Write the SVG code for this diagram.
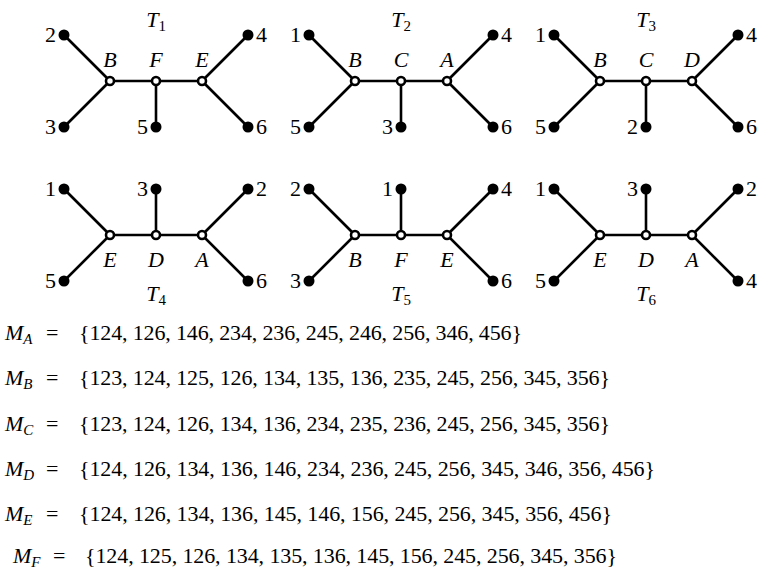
<svg xmlns="http://www.w3.org/2000/svg" width="760" height="571" viewBox="0 0 760 571">
<style>
.e{stroke:#000;stroke-width:2.6;fill:none}
.leaf{fill:#000}
.int{fill:#fff;stroke:#000;stroke-width:2.6}
.num{font-family:"Liberation Serif","Times New Roman",serif;font-size:22px;fill:#000}
.l{text-anchor:end}
.lab{font-family:"Liberation Serif","Times New Roman",serif;font-style:italic;font-size:22px;text-anchor:middle;fill:#000}
.sub{font-style:normal;font-size:15px}
.eq{font-family:"Liberation Serif","Times New Roman",serif;font-size:22px;fill:#000}
.it{font-style:italic}
.s{font-style:italic;font-size:15px}
</style>
<rect width="760" height="571" fill="#fff"/>

<!-- T1 -->
<g id="T1">
<g id="T1-edges">
<line class="e" x1="64" y1="35" x2="110" y2="81"/><line class="e" x1="64" y1="127" x2="110" y2="81"/>
<line class="e" x1="110" y1="81" x2="202" y2="81"/><line class="e" x1="156" y1="81" x2="156" y2="127"/>
<line class="e" x1="202" y1="81" x2="248" y2="35"/><line class="e" x1="202" y1="81" x2="248" y2="127"/>
</g>
<text class="lab" x="156" y="27">T<tspan class="sub" dy="4">1</tspan></text>
<g id="T1-leaf2"><circle class="leaf" cx="64" cy="35" r="5.5"/><text class="num l" x="56" y="42">2</text></g>
<g id="T1-leaf3"><circle class="leaf" cx="64" cy="127" r="5.5"/><text class="num l" x="56" y="134">3</text></g>
<g id="T1-leaf5"><circle class="leaf" cx="156" cy="127" r="5.5"/><text class="num l" x="148" y="134">5</text></g>
<g id="T1-leaf4"><circle class="leaf" cx="248" cy="35" r="5.5"/><text class="num" x="256" y="42">4</text></g>
<g id="T1-leaf6"><circle class="leaf" cx="248" cy="127" r="5.5"/><text class="num" x="256" y="134">6</text></g>
<g id="T1-B"><circle class="int" cx="110" cy="81" r="4"/><text class="lab" x="110" y="67">B</text></g>
<g id="T1-F"><circle class="int" cx="156" cy="81" r="4"/><text class="lab" x="156" y="67">F</text></g>
<g id="T1-E"><circle class="int" cx="202" cy="81" r="4"/><text class="lab" x="202" y="67">E</text></g>
</g>

<!-- T2 -->
<g id="T2">
<g id="T2-edges">
<line class="e" x1="309" y1="35" x2="355" y2="81"/><line class="e" x1="309" y1="127" x2="355" y2="81"/>
<line class="e" x1="355" y1="81" x2="447" y2="81"/><line class="e" x1="401" y1="81" x2="401" y2="127"/>
<line class="e" x1="447" y1="81" x2="493" y2="35"/><line class="e" x1="447" y1="81" x2="493" y2="127"/>
</g>
<text class="lab" x="401" y="27">T<tspan class="sub" dy="4">2</tspan></text>
<g id="T2-leaf1"><circle class="leaf" cx="309" cy="35" r="5.5"/><text class="num l" x="301" y="42">1</text></g>
<g id="T2-leaf5"><circle class="leaf" cx="309" cy="127" r="5.5"/><text class="num l" x="301" y="134">5</text></g>
<g id="T2-leaf3"><circle class="leaf" cx="401" cy="127" r="5.5"/><text class="num l" x="393" y="134">3</text></g>
<g id="T2-leaf4"><circle class="leaf" cx="493" cy="35" r="5.5"/><text class="num" x="501" y="42">4</text></g>
<g id="T2-leaf6"><circle class="leaf" cx="493" cy="127" r="5.5"/><text class="num" x="501" y="134">6</text></g>
<g id="T2-B"><circle class="int" cx="355" cy="81" r="4"/><text class="lab" x="355" y="67">B</text></g>
<g id="T2-C"><circle class="int" cx="401" cy="81" r="4"/><text class="lab" x="401" y="67">C</text></g>
<g id="T2-A"><circle class="int" cx="447" cy="81" r="4"/><text class="lab" x="447" y="67">A</text></g>
</g>

<!-- T3 -->
<g id="T3">
<g id="T3-edges">
<line class="e" x1="554" y1="35" x2="600" y2="81"/><line class="e" x1="554" y1="127" x2="600" y2="81"/>
<line class="e" x1="600" y1="81" x2="692" y2="81"/><line class="e" x1="646" y1="81" x2="646" y2="127"/>
<line class="e" x1="692" y1="81" x2="738" y2="35"/><line class="e" x1="692" y1="81" x2="738" y2="127"/>
</g>
<text class="lab" x="646" y="27">T<tspan class="sub" dy="4">3</tspan></text>
<g id="T3-leaf1"><circle class="leaf" cx="554" cy="35" r="5.5"/><text class="num l" x="546" y="42">1</text></g>
<g id="T3-leaf5"><circle class="leaf" cx="554" cy="127" r="5.5"/><text class="num l" x="546" y="134">5</text></g>
<g id="T3-leaf2"><circle class="leaf" cx="646" cy="127" r="5.5"/><text class="num l" x="638" y="134">2</text></g>
<g id="T3-leaf4"><circle class="leaf" cx="738" cy="35" r="5.5"/><text class="num" x="746" y="42">4</text></g>
<g id="T3-leaf6"><circle class="leaf" cx="738" cy="127" r="5.5"/><text class="num" x="746" y="134">6</text></g>
<g id="T3-B"><circle class="int" cx="600" cy="81" r="4"/><text class="lab" x="600" y="67">B</text></g>
<g id="T3-C"><circle class="int" cx="646" cy="81" r="4"/><text class="lab" x="646" y="67">C</text></g>
<g id="T3-D"><circle class="int" cx="692" cy="81" r="4"/><text class="lab" x="692" y="67">D</text></g>
</g>

<!-- T4 -->
<g id="T4">
<g id="T4-edges">
<line class="e" x1="64" y1="189" x2="110" y2="235"/><line class="e" x1="64" y1="281" x2="110" y2="235"/>
<line class="e" x1="110" y1="235" x2="202" y2="235"/><line class="e" x1="156" y1="235" x2="156" y2="189"/>
<line class="e" x1="202" y1="235" x2="248" y2="189"/><line class="e" x1="202" y1="235" x2="248" y2="281"/>
</g>
<text class="lab" x="156" y="301">T<tspan class="sub" dy="4">4</tspan></text>
<g id="T4-leaf1"><circle class="leaf" cx="64" cy="189" r="5.5"/><text class="num l" x="56" y="196">1</text></g>
<g id="T4-leaf5"><circle class="leaf" cx="64" cy="281" r="5.5"/><text class="num l" x="56" y="288">5</text></g>
<g id="T4-leaf3"><circle class="leaf" cx="156" cy="189" r="5.5"/><text class="num l" x="148" y="196">3</text></g>
<g id="T4-leaf2"><circle class="leaf" cx="248" cy="189" r="5.5"/><text class="num" x="256" y="196">2</text></g>
<g id="T4-leaf6"><circle class="leaf" cx="248" cy="281" r="5.5"/><text class="num" x="256" y="288">6</text></g>
<g id="T4-E"><circle class="int" cx="110" cy="235" r="4"/><text class="lab" x="110" y="267">E</text></g>
<g id="T4-D"><circle class="int" cx="156" cy="235" r="4"/><text class="lab" x="156" y="267">D</text></g>
<g id="T4-A"><circle class="int" cx="202" cy="235" r="4"/><text class="lab" x="202" y="267">A</text></g>
</g>

<!-- T5 -->
<g id="T5">
<g id="T5-edges">
<line class="e" x1="309" y1="189" x2="355" y2="235"/><line class="e" x1="309" y1="281" x2="355" y2="235"/>
<line class="e" x1="355" y1="235" x2="447" y2="235"/><line class="e" x1="401" y1="235" x2="401" y2="189"/>
<line class="e" x1="447" y1="235" x2="493" y2="189"/><line class="e" x1="447" y1="235" x2="493" y2="281"/>
</g>
<text class="lab" x="401" y="301">T<tspan class="sub" dy="4">5</tspan></text>
<g id="T5-leaf2"><circle class="leaf" cx="309" cy="189" r="5.5"/><text class="num l" x="301" y="196">2</text></g>
<g id="T5-leaf3"><circle class="leaf" cx="309" cy="281" r="5.5"/><text class="num l" x="301" y="288">3</text></g>
<g id="T5-leaf1"><circle class="leaf" cx="401" cy="189" r="5.5"/><text class="num l" x="393" y="196">1</text></g>
<g id="T5-leaf4"><circle class="leaf" cx="493" cy="189" r="5.5"/><text class="num" x="501" y="196">4</text></g>
<g id="T5-leaf6"><circle class="leaf" cx="493" cy="281" r="5.5"/><text class="num" x="501" y="288">6</text></g>
<g id="T5-B"><circle class="int" cx="355" cy="235" r="4"/><text class="lab" x="355" y="267">B</text></g>
<g id="T5-F"><circle class="int" cx="401" cy="235" r="4"/><text class="lab" x="401" y="267">F</text></g>
<g id="T5-E"><circle class="int" cx="447" cy="235" r="4"/><text class="lab" x="447" y="267">E</text></g>
</g>

<!-- T6 -->
<g id="T6">
<g id="T6-edges">
<line class="e" x1="554" y1="189" x2="600" y2="235"/><line class="e" x1="554" y1="281" x2="600" y2="235"/>
<line class="e" x1="600" y1="235" x2="692" y2="235"/><line class="e" x1="646" y1="235" x2="646" y2="189"/>
<line class="e" x1="692" y1="235" x2="738" y2="189"/><line class="e" x1="692" y1="235" x2="738" y2="281"/>
</g>
<text class="lab" x="646" y="301">T<tspan class="sub" dy="4">6</tspan></text>
<g id="T6-leaf1"><circle class="leaf" cx="554" cy="189" r="5.5"/><text class="num l" x="546" y="196">1</text></g>
<g id="T6-leaf5"><circle class="leaf" cx="554" cy="281" r="5.5"/><text class="num l" x="546" y="288">5</text></g>
<g id="T6-leaf3"><circle class="leaf" cx="646" cy="189" r="5.5"/><text class="num l" x="638" y="196">3</text></g>
<g id="T6-leaf2"><circle class="leaf" cx="738" cy="189" r="5.5"/><text class="num" x="746" y="196">2</text></g>
<g id="T6-leaf4"><circle class="leaf" cx="738" cy="281" r="5.5"/><text class="num" x="746" y="288">4</text></g>
<g id="T6-E"><circle class="int" cx="600" cy="235" r="4"/><text class="lab" x="600" y="267">E</text></g>
<g id="T6-D"><circle class="int" cx="646" cy="235" r="4"/><text class="lab" x="646" y="267">D</text></g>
<g id="T6-A"><circle class="int" cx="692" cy="235" r="4"/><text class="lab" x="692" y="267">A</text></g>
</g>

<!-- Equations -->
<g id="equations">
<text class="eq" y="340"><tspan class="it" x="5">M</tspan><tspan class="s" dy="4">A</tspan></text>
<text class="eq" x="46" y="340">=</text>
<text class="eq" x="79" y="340" textLength="443" lengthAdjust="spacing">{124, 126, 146, 234, 236, 245, 246, 256, 346, 456}</text>

<text class="eq" y="385"><tspan class="it" x="5">M</tspan><tspan class="s" dy="4">B</tspan></text>
<text class="eq" x="46" y="385">=</text>
<text class="eq" x="79" y="385" textLength="531" lengthAdjust="spacing">{123, 124, 125, 126, 134, 135, 136, 235, 245, 256, 345, 356}</text>

<text class="eq" y="431"><tspan class="it" x="5">M</tspan><tspan class="s" dy="4">C</tspan></text>
<text class="eq" x="46" y="431">=</text>
<text class="eq" x="79" y="431" textLength="531" lengthAdjust="spacing">{123, 124, 126, 134, 136, 234, 235, 236, 245, 256, 345, 356}</text>

<text class="eq" y="476"><tspan class="it" x="5">M</tspan><tspan class="s" dy="4">D</tspan></text>
<text class="eq" x="46" y="476">=</text>
<text class="eq" x="79" y="476" textLength="576" lengthAdjust="spacing">{124, 126, 134, 136, 146, 234, 236, 245, 256, 345, 346, 356, 456}</text>

<text class="eq" y="521"><tspan class="it" x="5">M</tspan><tspan class="s" dy="4">E</tspan></text>
<text class="eq" x="46" y="521">=</text>
<text class="eq" x="79" y="521" textLength="533" lengthAdjust="spacing">{124, 126, 134, 136, 145, 146, 156, 245, 256, 345, 356, 456}</text>

<text class="eq" y="563"><tspan class="it" x="13">M</tspan><tspan class="s" dy="4">F</tspan></text>
<text class="eq" x="53" y="563">=</text>
<text class="eq" x="85" y="563" textLength="532" lengthAdjust="spacing">{124, 125, 126, 134, 135, 136, 145, 156, 245, 256, 345, 356}</text>
</g>
</svg>
